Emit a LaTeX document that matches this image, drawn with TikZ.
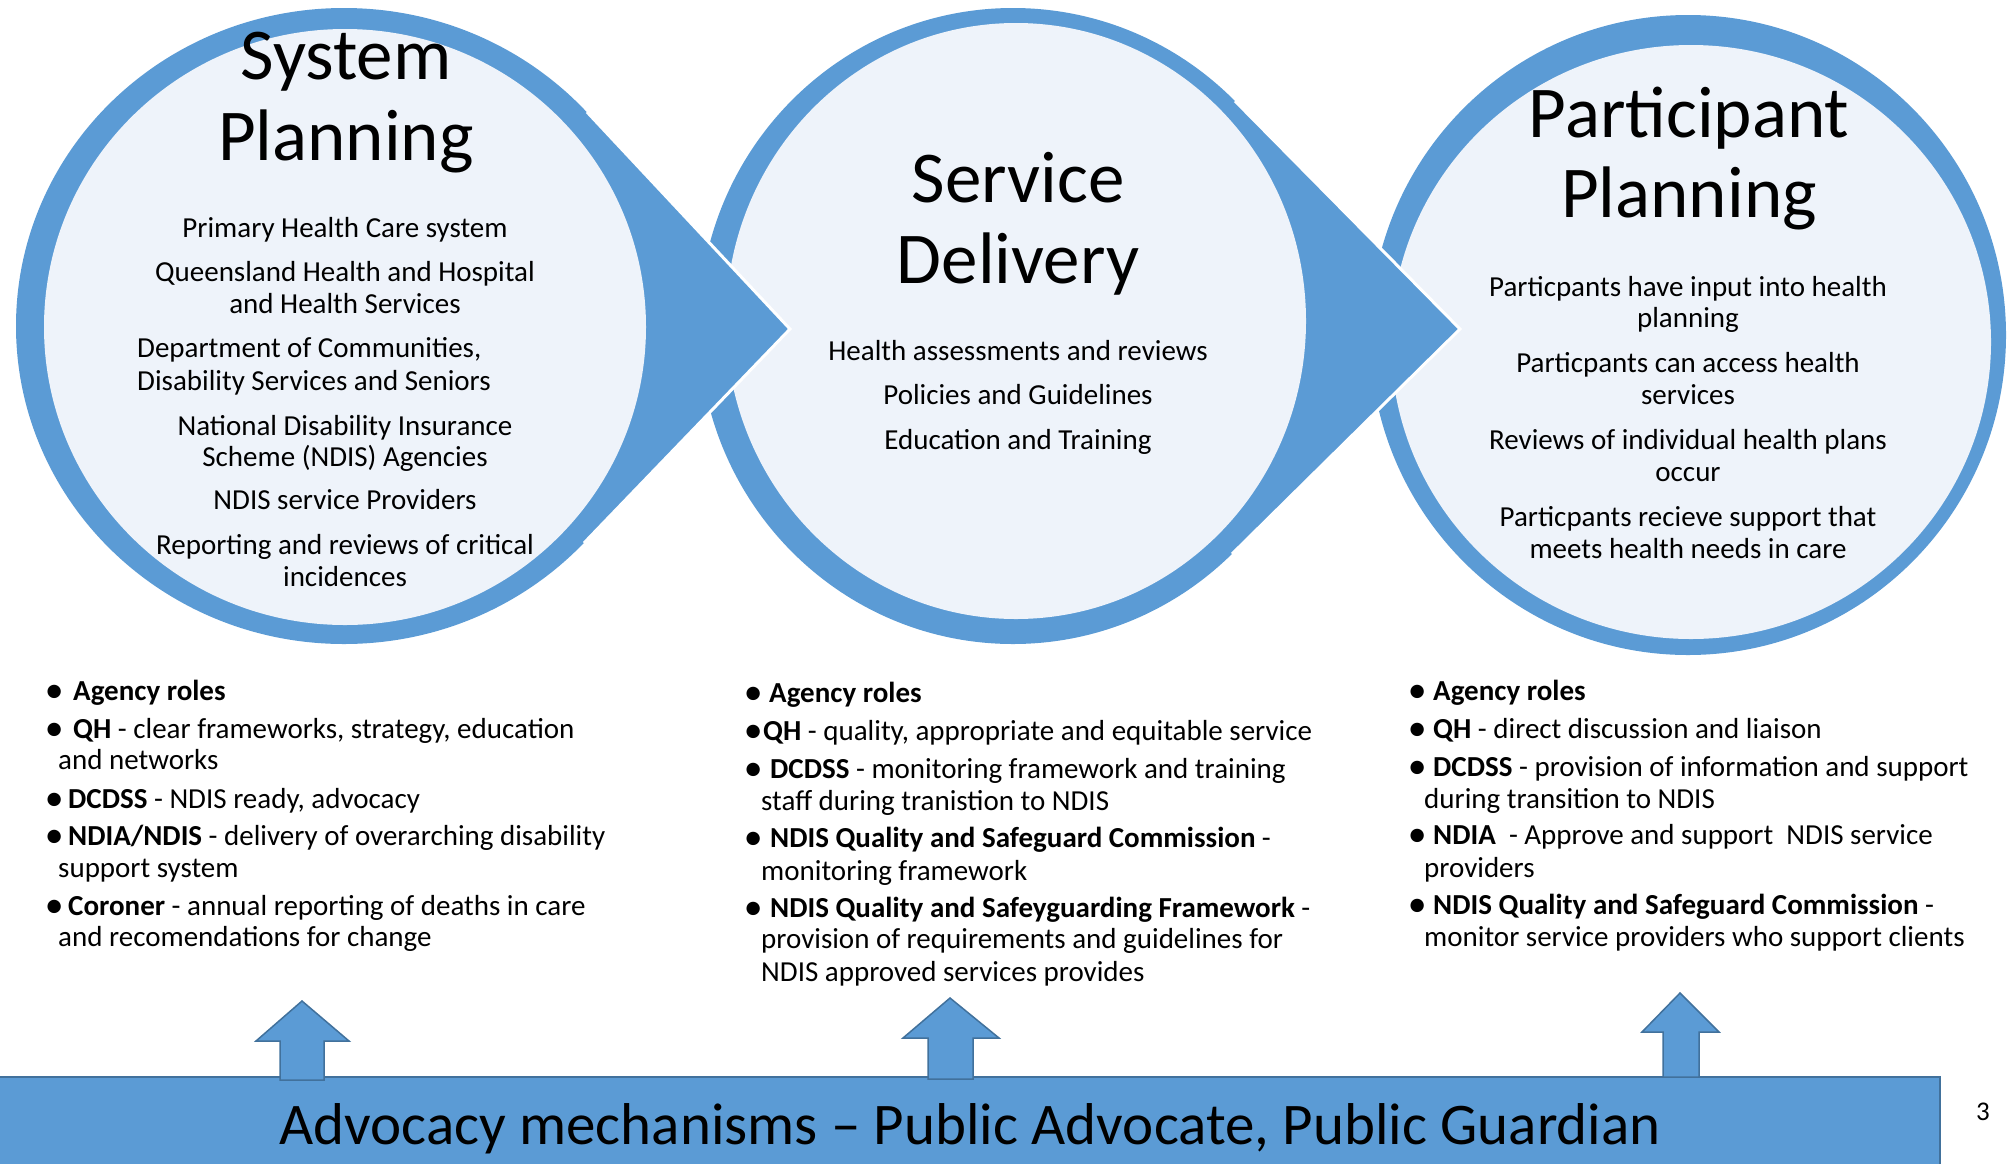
\documentclass[tikz,border=0pt]{standalone}
\usepackage{fontspec}
\setmainfont{Carlito}
\definecolor{ringblue}{HTML}{5B9BD5}
\definecolor{paleblue}{HTML}{EEF3FA}
\definecolor{edgeblue}{HTML}{41719C}
\tikzset{
  heading/.style={font=\fontsize{73}{80}\selectfont, anchor=base, inner sep=0pt},
  body/.style={font=\fontsize{29}{32}\selectfont, anchor=base, inner sep=0pt},
  bodyleft/.style={body, anchor=base west},
  item/.style={font=\fontsize{29}{32}\selectfont, anchor=base west, inner sep=0pt},
  ring/.style={fill=ringblue},
  face/.style={fill=paleblue},
  seam/.style={draw=white, line width=3pt},
  uparrow/.style={fill=ringblue, draw=edgeblue, line width=1.5pt, line join=miter},
  banner/.style={fill=ringblue, draw=edgeblue, line width=1.5pt},
  bannertext/.style={font=\fontsize{59}{64}\selectfont, anchor=base, inner sep=0pt},
  pagenum/.style={font=\fontsize{27}{30}\selectfont, anchor=base, inner sep=0pt}
}
% bullet centred on the node's start, text beginning #1 pt further right
\newcommand{\bul}[1]{\makebox[#1pt][l]{\makebox[0pt]{\raisebox{-2pt}{\scalebox{1.3}{\textbullet}}}}}
\begin{document}
\begin{tikzpicture}[x=1pt,y=-1pt]
\useasboundingbox (0,0) rectangle (2010,1163);

% ---- third stage: participant planning ----
\coordinate (c3) at (1688,335);
\fill[ring] (c3) ellipse [x radius=318pt, y radius=320pt];
\fill[face] (1691,342) ellipse [x radius=300pt, y radius=297pt];

% ---- second stage: service delivery, pointing right ----
\coordinate (c2) at (1013,326);
\coordinate (t2) at (1460,329);
\coordinate (u2) at (1235,101);
\coordinate (l2) at (1232,554);
\fill[ring] (c2) ellipse [x radius=314pt, y radius=318pt];
\fill[ring] (u2) -- (t2) -- (l2) -- (c2) -- cycle;
\draw[seam] (u2) -- (t2) -- (l2);
\fill[face] (1016,321) ellipse [x radius=290pt, y radius=298pt];

% ---- first stage: system planning, pointing right ----
\coordinate (c1) at (344,326);
\coordinate (t1) at (790,329);
\coordinate (u1) at (587,112);
\coordinate (l1) at (584,543);
\fill[ring] (c1) ellipse [x radius=328pt, y radius=318pt];
\fill[ring] (u1) -- (t1) -- (l1) -- (c1) -- cycle;
\draw[seam] (u1) -- (t1) -- (l1);
\fill[face] (345,327) ellipse [x radius=301pt, y radius=298pt];

% ---- stage headings ----
\node[heading] (h1a) at (346,79) {System};
\node[heading] (h1b) at (346,160) {Planning};
\node[heading] (h2a) at (1018,202) {Service};
\node[heading] (h2b) at (1018,283) {Delivery};
\node[heading] (h3a) at (1689,137) {Participant};
\node[heading] (h3b) at (1689,217) {Planning};

% ---- system planning contents ----
\node[body] (s1) at (345,237) {Primary Health Care system};
\node[body] (s2) at (345,281) {Queensland Health and Hospital};
\node[body] (s2b) at (345,313) {and Health Services};
\node[bodyleft] (s3) at (137,357) {Department of Communities,};
\node[bodyleft] (s3b) at (137,390) {Disability Services and Seniors};
\node[body] (s4) at (345,435) {National Disability Insurance};
\node[body] (s4b) at (345,466) {Scheme (NDIS) Agencies};
\node[body] (s5) at (345,509) {NDIS service Providers};
\node[body] (s6) at (345,554) {Reporting and reviews of critical};
\node[body] (s6b) at (345,586) {incidences};

% ---- service delivery contents ----
\node[body] (d1) at (1018,360) {Health assessments and reviews};
\node[body] (d2) at (1018,404) {Policies and Guidelines};
\node[body] (d3) at (1018,449) {Education and Training};

% ---- participant planning contents ----
\node[body] (p1) at (1688,296) {Particpants have input into health};
\node[body] (p1b) at (1688,327) {planning};
\node[body] (p2) at (1688,372) {Particpants can access health};
\node[body] (p2b) at (1688,404) {services};
\node[body] (p3) at (1688,449) {Reviews of individual health plans};
\node[body] (p3b) at (1688,481) {occur};
\node[body] (p4) at (1688,526) {Particpants recieve support that};
\node[body] (p4b) at (1688,558) {meets health needs in care};

% ---- agency roles, left column ----
\node[item] (a1) at (54,700) {\bul{19}\textbf{Agency roles}};
\node[item] (a2) at (54,738) {\bul{19}\textbf{QH} - clear frameworks, strategy, education};
\node[item] (a2b) at (58,769) {and networks};
\node[item] (a3) at (54,808) {\bul{14}\textbf{DCDSS} - NDIS ready, advocacy};
\node[item] (a4) at (54,845) {\bul{14}\textbf{NDIA/NDIS} - delivery of overarching disability};
\node[item] (a4b) at (58,877) {support system};
\node[item] (a5) at (54,915) {\bul{14}\textbf{Coroner} - annual reporting of deaths in care};
\node[item] (a5b) at (58,946) {and recomendations for change};

% ---- agency roles, middle column ----
\node[item] (b1) at (753,702) {\bul{16}\textbf{Agency roles}};
\node[item] (b2) at (753,740) {\bul{10}\textbf{QH} - quality, appropriate and equitable service};
\node[item] (b3) at (753,778) {\bul{17}\textbf{DCDSS} - monitoring framework and training};
\node[item] (b3b) at (761,810) {staff during tranistion to NDIS};
\node[item] (b4) at (753,847) {\bul{17}\textbf{NDIS Quality and Safeguard Commission} -};
\node[item] (b4b) at (761,880) {monitoring framework};
\node[item] (b5) at (753,917) {\bul{17}\textbf{NDIS Quality and Safeyguarding Framework} -};
\node[item] (b5b) at (761,948) {provision of requirements and guidelines for};
\node[item] (b5c) at (761,981) {NDIS approved services provides};

% ---- agency roles, right column ----
\node[item] (r1) at (1417,700) {\bul{16}\textbf{Agency roles}};
\node[item] (r2) at (1417,738) {\bul{16}\textbf{QH} - direct discussion and liaison};
\node[item] (r3) at (1417,776) {\bul{16}\textbf{DCDSS} - provision of information and support};
\node[item] (r3b) at (1424,808) {during transition to NDIS};
\node[item] (r4) at (1417,844) {\bul{16}\textbf{NDIA}\ \ - Approve and support\ \ NDIS service};
\node[item] (r4b) at (1424,877) {providers};
\node[item] (r5) at (1417,914) {\bul{16}\textbf{NDIS Quality and Safeguard Commission} -};
\node[item] (r5b) at (1424,946) {monitor service providers who support clients};

% ---- advocacy banner and its upward arrows ----
\draw[banner] (-3,1077) rectangle (1940,1168);
\draw[uparrow] (302,1001) -- (349,1041) -- (324,1041) -- (324,1080)
  -- (280,1080) -- (280,1041) -- (256,1041) -- cycle;
\draw[uparrow] (950,998) -- (999,1038) -- (973,1038) -- (973,1079)
  -- (928,1079) -- (928,1038) -- (903,1038) -- cycle;
\draw[uparrow] (1680,993) -- (1719,1032) -- (1699,1032) -- (1699,1077)
  -- (1663,1077) -- (1663,1032) -- (1642,1032) -- cycle;
\node[bannertext] (adv) at (970,1144) {Advocacy mechanisms \textendash\ Public Advocate, Public Guardian};
\node[pagenum] (pg) at (1983,1120) {3};
\end{tikzpicture}
\end{document}
